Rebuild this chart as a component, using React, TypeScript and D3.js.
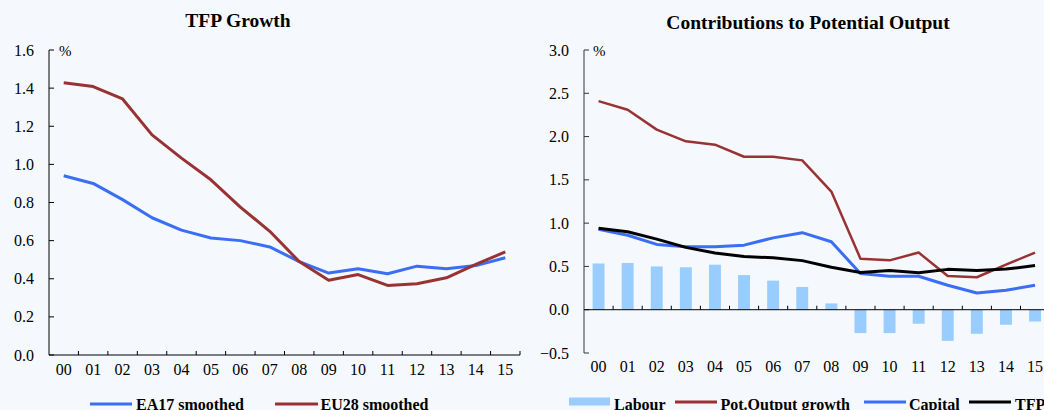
import React from "react";
import * as d3 from "d3";

const years = ["00","01","02","03","04","05","06","07","08","09","10","11","12","13","14","15"];
const ea17Smoothed = [0.94,0.90,0.815,0.72,0.655,0.614,0.60,0.567,0.49,0.43,0.452,0.426,0.466,0.452,0.469,0.51];
const eu28Smoothed = [1.428,1.408,1.343,1.155,1.033,0.919,0.776,0.649,0.49,0.392,0.422,0.365,0.374,0.405,0.475,0.541];

const labour = [0.534,0.54,0.50,0.49,0.52,0.40,0.336,0.263,0.073,-0.27,-0.27,-0.162,-0.36,-0.278,-0.174,-0.136];
const potOutput = [2.41,2.31,2.08,1.945,1.906,1.767,1.767,1.725,1.365,0.59,0.57,0.66,0.39,0.375,0.52,0.66];
const capital = [0.928,0.86,0.754,0.727,0.727,0.746,0.83,0.89,0.785,0.418,0.386,0.386,0.282,0.193,0.224,0.282];
const tfp = [0.94,0.90,0.815,0.72,0.655,0.614,0.60,0.567,0.49,0.43,0.452,0.426,0.466,0.452,0.469,0.51];

const leftTicks = [0,0.2,0.4,0.6,0.8,1.0,1.2,1.4,1.6];
const rightTicks = [-0.5,0,0.5,1.0,1.5,2.0,2.5,3.0];

const BG = "#f5f9fd";
const BLUE = "#3a6ef6";
const RED = "#993333";
const LIGHTBLUE = "#99ccff";
const FONT = "'Liberation Serif', 'Times New Roman', serif";

export default function App() {
  // Left chart scales
  const xL = d3.scaleBand<string>().domain(years).range([49, 520]);
  const yL = d3.scaleLinear().domain([0, 1.6]).range([355, 50]);
  // Right chart scales
  const xR = d3.scaleBand<string>().domain(years).range([584, 1049.6]);
  const xRBar = d3.scaleBand<string>().domain(years).range([584, 1049.6]).paddingInner(0.59).paddingOuter(0.295);
  const yR = d3.scaleLinear().domain([-0.5, 3.0]).range([353, 50]);

  const lineL = (vals: number[]) =>
    d3.line<number>().x((_, i) => (xL(years[i]) as number) + xL.bandwidth() / 2).y((v) => yL(v))(vals) as string;
  const lineR = (vals: number[]) =>
    d3.line<number>().x((_, i) => (xR(years[i]) as number) + xR.bandwidth() / 2).y((v) => yR(v))(vals) as string;

  const fmt = d3.format(".1f");

  return (
    <svg width={1044} height={410} style={{ position: "absolute", left: 0, top: 0, background: BG }} fontFamily={FONT}>
      <rect x={0} y={0} width={1044} height={410} fill={BG} />

      {/* ===== Left chart ===== */}
      <text x={238} y={27} textAnchor="middle" fontSize={19.5} fontWeight="bold" fill="#000">TFP Growth</text>
      <text x={59} y={56} fontSize={15} fill="#000">%</text>
      {/* y axis */}
      <line x1={49} x2={49} y1={yL(1.6)} y2={yL(0)} stroke="#000" strokeWidth={1} />
      {leftTicks.map((t) => (
        <g key={"lt" + t}>
          <line x1={49} x2={54} y1={yL(t)} y2={yL(t)} stroke="#000" strokeWidth={1} />
          <text x={34} y={yL(t)} dy="0.35em" textAnchor="end" fontSize={16} fill="#000">{fmt(t)}</text>
        </g>
      ))}
      {/* x axis */}
      <line x1={49} x2={520} y1={yL(0)} y2={yL(0)} stroke="#000" strokeWidth={1} />
      {years.map((yr, i) => (
        <g key={"lx" + yr}>
          <line x1={(xL(yr) as number) + xL.bandwidth()} x2={(xL(yr) as number) + xL.bandwidth()} y1={yL(0)} y2={yL(0) - 4} stroke="#000" />
          <text x={(xL(yr) as number) + xL.bandwidth() / 2} y={375} textAnchor="middle" fontSize={16} fill="#000">{yr}</text>
        </g>
      ))}
      <path d={lineL(ea17Smoothed)} fill="none" stroke={BLUE} strokeWidth={3} strokeLinejoin="round" />
      <path d={lineL(eu28Smoothed)} fill="none" stroke={RED} strokeWidth={3} strokeLinejoin="round" />
      {/* legend */}
      <line x1={90} x2={132} y1={404} y2={404} stroke={BLUE} strokeWidth={3} />
      <text x={136} y={409.5} fontSize={16} fontWeight="bold" fill="#000">EA17 smoothed</text>
      <line x1={275} x2={318} y1={404} y2={404} stroke={RED} strokeWidth={3} />
      <text x={320.5} y={409.5} fontSize={16} fontWeight="bold" fill="#000">EU28 smoothed</text>

      {/* ===== Right chart ===== */}
      <text x={808} y={29} textAnchor="middle" fontSize={19.5} fontWeight="bold" fill="#000">Contributions to Potential Output</text>
      <text x={593} y={56} fontSize={15} fill="#000">%</text>
      {/* bars */}
      {labour.map((v, i) => (
        <rect key={"b" + i} x={xRBar(years[i]) as number} width={xRBar.bandwidth()}
          y={yR(Math.max(0, v))} height={Math.abs(yR(v) - yR(0))} fill={LIGHTBLUE} />
      ))}
      {/* y axis */}
      <line x1={584} x2={584} y1={yR(3.0)} y2={yR(-0.5)} stroke="#333" strokeWidth={1} />
      {rightTicks.map((t) => (
        <g key={"rt" + t}>
          <line x1={584} x2={589} y1={yR(t)} y2={yR(t)} stroke="#333" strokeWidth={1} />
          <text x={569} y={yR(t)} dy="0.35em" textAnchor="end" fontSize={16} fill="#000">{fmt(t)}</text>
        </g>
      ))}
      {/* x axis at zero */}
      <line x1={584} x2={1049.6} y1={yR(0)} y2={yR(0)} stroke="#000" strokeWidth={1} />
      {years.map((yr) => (
        <g key={"rx" + yr}>
          <line x1={(xR(yr) as number) + xR.bandwidth()} x2={(xR(yr) as number) + xR.bandwidth()} y1={yR(0)} y2={yR(0) - 4} stroke="#000" />
          <text x={(xR(yr) as number) + xR.bandwidth() / 2} y={372} textAnchor="middle" fontSize={16} fill="#000">{yr}</text>
        </g>
      ))}
      <path d={lineR(potOutput)} fill="none" stroke={RED} strokeWidth={2.5} strokeLinejoin="round" />
      <path d={lineR(capital)} fill="none" stroke={BLUE} strokeWidth={3} strokeLinejoin="round" />
      <path d={lineR(tfp)} fill="none" stroke="#000" strokeWidth={3} strokeLinejoin="round" />
      {/* legend */}
      <rect x={569} y={397.5} width={41} height={8} fill={LIGHTBLUE} />
      <text x={614} y={409.5} fontSize={16} fontWeight="bold" fill="#000">Labour</text>
      <line x1={675} x2={717} y1={402} y2={402} stroke={RED} strokeWidth={3} />
      <text x={720.5} y={409.5} fontSize={16} fontWeight="bold" fill="#000">Pot.Output growth</text>
      <line x1={864} x2={906} y1={402} y2={402} stroke={BLUE} strokeWidth={3} />
      <text x={909} y={409.5} fontSize={16} fontWeight="bold" fill="#000">Capital</text>
      <line x1={969} x2={1011} y1={402} y2={402} stroke="#000" strokeWidth={3} />
      <text x={1015} y={409.5} fontSize={16} fontWeight="bold" fill="#000">TFP</text>
    </svg>
  );
}
